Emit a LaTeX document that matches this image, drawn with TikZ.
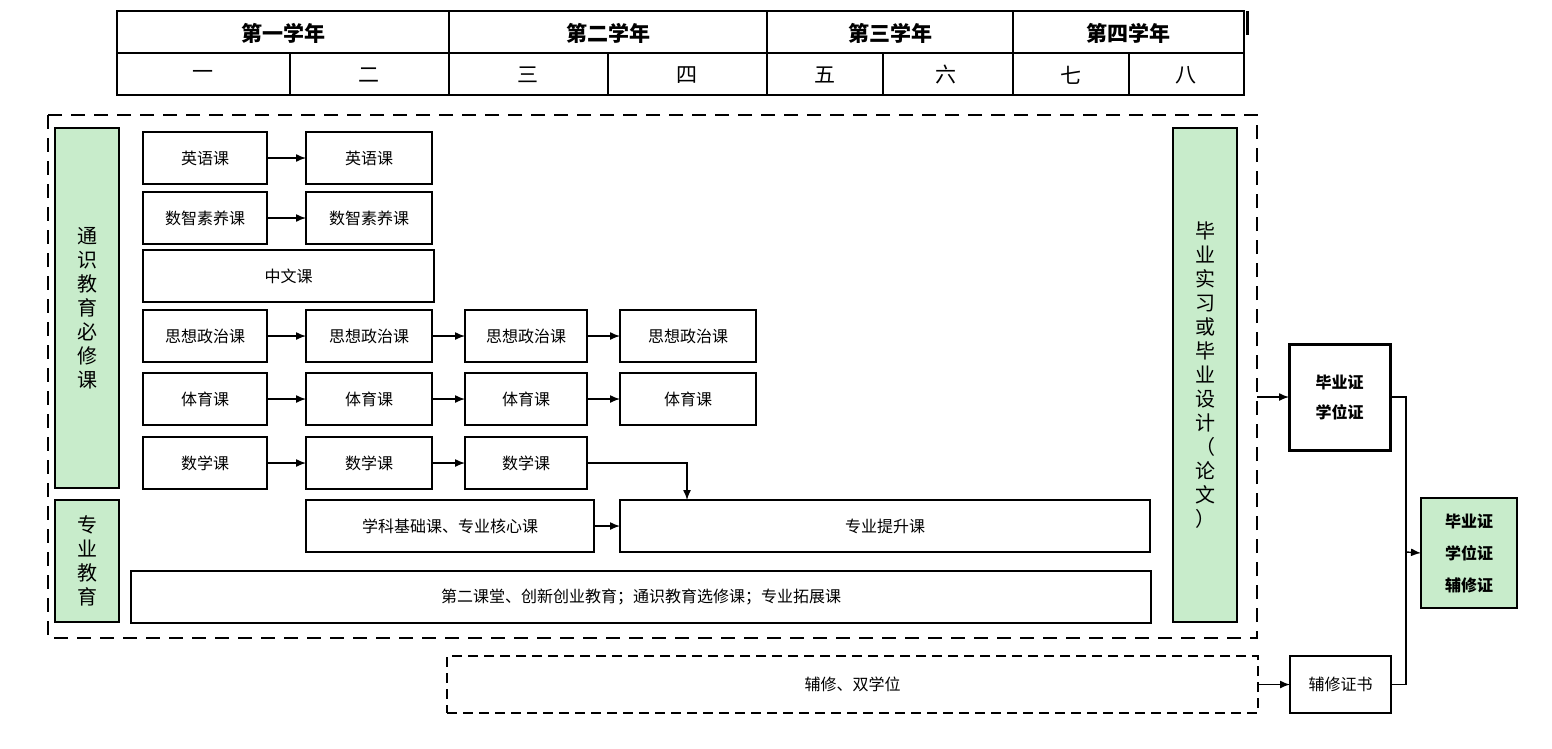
\documentclass[tikz,border=0pt]{standalone}
\usepackage{fontspec}
\setmainfont{Noto Sans CJK SC}
\usetikzlibrary{arrows.meta}
\definecolor{gr}{HTML}{C8ECCB}
\tikzset{
  box/.style={draw,line width=1.6,inner sep=0,outer sep=0,font=\fontsize{16}{18}\selectfont,align=center},
  gbox/.style={box,fill=gr,line width=2,font=\fontsize{20}{24}\selectfont},
  hd/.style={font=\bfseries\fontsize{21}{24}\selectfont},
  ar/.style={line width=1.4,-{Latex[length=10,width=8]}},
}
\newcommand{\bx}[7][box]{\node[#1,minimum width={(#4-#2)*1pt},minimum height={(#5-#3)*1pt}] (#7) at ({(#2+#4)/2},{(#3+#5)/2}) {#6};}
\begin{document}
\begin{tikzpicture}[x=1pt,y=-1pt]
\useasboundingbox (0,0) rectangle (1552,748);
% table
\draw[line width=2] (117,11) rectangle (1244,95);
\draw[line width=2] (117,53) -- (1244,53);
\foreach \x in {449,767,1013} \draw[line width=2] (\x,11) -- (\x,95);
\foreach \x in {290,608,883,1129} \draw[line width=2] (\x,53) -- (\x,95);
\draw[line width=3] (1247,11) -- (1247,35);
\node[hd] (y1) at (283,33) {第一学年};
\node[hd] (y2) at (608,33) {第二学年};
\node[hd] (y3) at (890,33) {第三学年};
\node[hd] (y4) at (1128,33) {第四学年};
\foreach \t/\x [count=\i] in {一/203,二/369,三/528,四/687,五/825,六/946,七/1071,八/1186}
  \node[font=\fontsize{21}{24}\selectfont] (s\i) at (\x,75) {\t};
% outer dashed
\draw[line width=2.5,dash pattern=on 14 off 9] (48,115) rectangle (1257,638);
\bx[gbox]{55}{128}{119}{488}{通\\识\\教\\育\\必\\修\\课}{g1}
\bx[gbox]{55}{500}{119}{622}{专\\业\\教\\育}{g2}
\bx[gbox]{1173}{128}{1237}{622}{毕\\业\\实\\习\\或\\毕\\业\\设\\计\\（\\论\\文\\）}{g3}
\bx{143}{132}{267}{184}{英语课}{e1}
\bx{306}{132}{432}{184}{英语课}{e2}
\bx{143}{192}{267}{244}{数智素养课}{d1}
\bx{306}{192}{432}{244}{数智素养课}{d2}
\bx{143}{250}{434}{302}{中文课}{zw}
\bx{143}{310}{267}{362}{思想政治课}{p1}
\bx{306}{310}{432}{362}{思想政治课}{p2}
\bx{465}{310}{587}{362}{思想政治课}{p3}
\bx{620}{310}{756}{362}{思想政治课}{p4}
\bx{143}{373}{267}{425}{体育课}{t1}
\bx{306}{373}{432}{425}{体育课}{t2}
\bx{465}{373}{587}{425}{体育课}{t3}
\bx{620}{373}{756}{425}{体育课}{t4}
\bx{143}{437}{267}{489}{数学课}{m1}
\bx{306}{437}{432}{489}{数学课}{m2}
\bx{465}{437}{587}{489}{数学课}{m3}
\bx{306}{500}{594}{552}{学科基础课、专业核心课}{jc}
\bx{620}{500}{1150}{552}{专业提升课}{ts}
\bx{131}{571}{1151}{623}{第二课堂、创新创业教育；通识教育选修课；专业拓展课}{de}
\node[draw,line width=1.6,dash pattern=on 10 off 6,minimum width=811,minimum height=57,inner sep=0,font=\fontsize{16}{18}\selectfont] (fx) at (852.5,684.5) {辅修、双学位};
\bx[box,line width=3,font=\bfseries\fontsize{16}{30}\selectfont]{1289}{344}{1390}{450}{毕业证\\学位证}{by}
\bx{1290}{656}{1391}{713}{辅修证书}{fz}
\bx[gbox,font=\bfseries\fontsize{16}{32}\selectfont]{1421}{498}{1517}{608}{毕业证\\学位证\\辅修证}{fin}
% arrows
\draw[ar] (e1) -- (e2);
\draw[ar] (d1) -- (d2);
\draw[ar] (p1) -- (p2); \draw[ar] (p2) -- (p3); \draw[ar] (p3) -- (p4);
\draw[ar] (t1) -- (t2); \draw[ar] (t2) -- (t3); \draw[ar] (t3) -- (t4);
\draw[ar] (m1) -- (m2); \draw[ar] (m2) -- (m3);
\draw[ar] (m3.east) -| (ts.north -| 687,0);
\draw[ar] (jc) -- (ts);
\coordinate (od) at (1257,397);
\draw[ar] (od) -- (by.west);
\draw[ar] (fx) -- (fz);
\coordinate (j) at (1406,552);
\draw[line width=1.4] (by.east) -| (j) |- (fz.east);
\draw[ar] (j) -- (fin.west);
\end{tikzpicture}
\end{document}
